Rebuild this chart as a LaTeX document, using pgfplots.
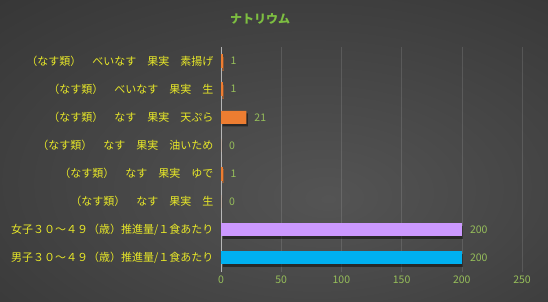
\documentclass[border=0pt]{standalone}
\usepackage{fontspec}
\setmainfont{Noto Sans CJK JP}
\usepackage{pgfplots}
\pgfplotsset{compat=1.18}
\definecolor{bgin}{RGB}{84,84,84}
\definecolor{bgmid}{RGB}{62,62,62}
\definecolor{bgout}{RGB}{30,30,30}
\definecolor{ttl}{RGB}{125,190,65}
\definecolor{tick}{RGB}{150,190,90}
\definecolor{cat}{RGB}{232,232,40}
\definecolor{orng}{RGB}{237,125,49}
\definecolor{purp}{RGB}{204,153,255}
\definecolor{blu}{RGB}{0,176,240}
\pgfdeclareradialshading{bgshade}{\pgfpoint{5bp}{-8bp}}{color(0bp)=(bgin); color(30bp)=(bgmid); color(75bp)=(bgout)}
\begin{document}
\begin{tikzpicture}
\shade[shading=bgshade] (0,0) rectangle (548bp,302bp);
\node[text=ttl, font=\fontsize{12bp}{14bp}\selectfont\bfseries] at (260bp,283bp) {ナトリウム};
\begin{axis}[
  at={(221bp,30bp)}, anchor=south west,
  scale only axis, width=301bp, height=225bp,
  xbar, bar width=13bp,
  xmin=0, xmax=250, ymin=-0.5, ymax=7.5,
  xtick={0,50,100,150,200,250},
  ytick={0,1,2,3,4,5,6,7},
  yticklabels={男子３０～４９（歳）推進量/１食あたり,女子３０～４９（歳）推進量/１食あたり,（なす類）　なす　果実　生,（なす類）　なす　果実　ゆで,（なす類）　なす　果実　油いため,（なす類）　なす　果実　天ぷら,（なす類）　べいなす　果実　生,（なす類）　べいなす　果実　素揚げ},
  axis line style={draw=none},
  major tick length=0pt,
  xmajorgrids, grid style={draw=white, opacity=0.12, line width=0.6pt},
  extra x ticks={0}, extra x tick labels={},
  extra x tick style={grid style={draw=white, opacity=0.55, line width=0.8pt}},
  /pgf/number format/assume math mode=true,
  xticklabel style={text=tick, font=\fontsize{10.5bp}{12bp}\selectfont},
  yticklabel style={text=cat, font=\fontsize{11bp}{13bp}\selectfont, xshift=-4bp},
  nodes near coords,
  every node near coord/.append style={text=tick, font=\fontsize{10.5bp}{12bp}\selectfont, anchor=west, inner sep=0pt, xshift=8bp},
  every axis plot/.append style={draw=none, bar shift=0pt,
    preaction={fill=black, opacity=0.45, transform canvas={xshift=1.5bp, yshift=-2.5bp}}},
]
\addplot[fill=blu] coordinates {(200,0)};
\addplot[fill=purp] coordinates {(200,1)};
\addplot[fill=orng] coordinates {(0,2) (0,4) (21,5)};
\addplot[fill=orng, draw=orng, line width=0.7pt] coordinates {(1,3) (1,6) (1,7)};
\end{axis}
\pgfresetboundingbox
\useasboundingbox (0,0) rectangle (548bp,302bp);
\end{tikzpicture}
\end{document}
